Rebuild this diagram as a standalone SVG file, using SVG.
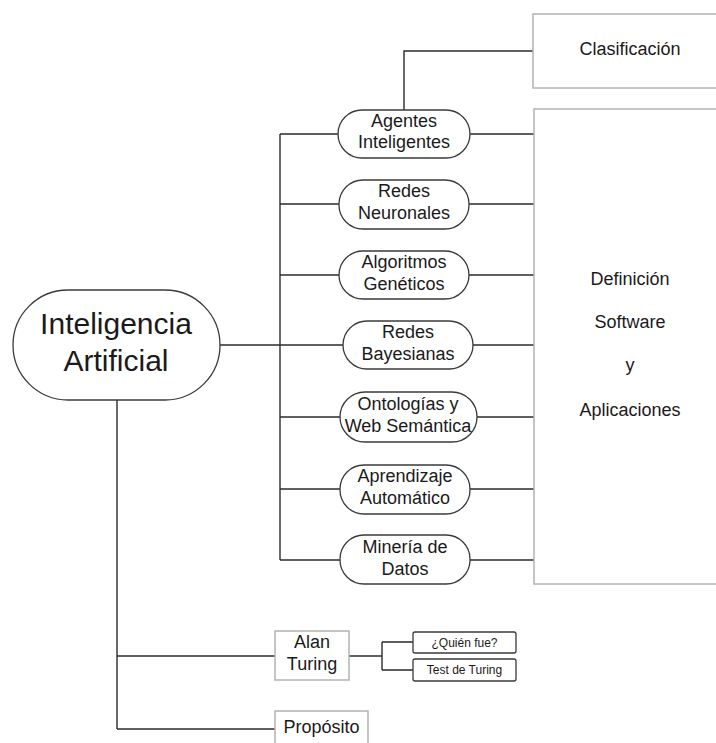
<svg xmlns="http://www.w3.org/2000/svg" width="716" height="743" viewBox="0 0 716 743">
  <style>
    text { font-family: "Liberation Sans", Arial, sans-serif; fill: #1a1a1a; text-anchor: middle; }
    .t18 { font-size: 18px; }
    .t12 { font-size: 12px; }
    .big { font-size: 30px; }
    .pill { fill: #ffffff; stroke: #3a3a3a; stroke-width: 1.3; }
    .box { fill: #ffffff; stroke: #b3b3b3; stroke-width: 1.5; }
    .tag { fill: #ffffff; stroke: #3a3a3a; stroke-width: 1.3; }
    .link { fill: none; stroke: #2b2b2b; stroke-width: 1.4; }
  </style>
  <rect width="716" height="743" fill="#ffffff"/>

  <!-- connectors -->
  <g id="connectors" class="link">
    <!-- main node to the topic list -->
    <path d="M220 345 H343"/>
    <path d="M280 134 V560"/>
    <path d="M280 134 H338 M470 134 H534"/>
    <path d="M280 204 H339 M469 204 H534"/>
    <path d="M280 275 H339 M469 275 H534"/>
    <path d="M473 345 H534"/>
    <path d="M280 417 H340 M477 417 H534"/>
    <path d="M280 489 H340 M470 489 H534"/>
    <path d="M280 560 H340 M470 560 H534"/>
    <!-- agents to classification -->
    <path d="M404 110 V51 H533"/>
    <!-- lower branch -->
    <path d="M117 400 V729"/>
    <path d="M117 656 H275"/>
    <path d="M117 729 H275"/>
    <path d="M349 656 H382"/>
    <path d="M382 642 V670"/>
    <path d="M382 642 H413 M382 670 H413"/>
  </g>

  <!-- side boxes -->
  <g id="clasificacion">
    <rect class="box" x="533" y="14" width="200" height="74"/>
    <text class="t18" x="630" y="55">Clasificación</text>
  </g>
  <g id="definicion">
    <rect class="box" x="534" y="109" width="200" height="475"/>
    <text class="t18" x="630" y="285">Definición</text>
    <text class="t18" x="630" y="328">Software</text>
    <text class="t18" x="630" y="371">y</text>
    <text class="t18" x="630" y="416">Aplicaciones</text>
  </g>

  <!-- main node -->
  <g id="inteligencia-artificial">
    <rect class="pill" x="13" y="290" width="207" height="110" rx="55" ry="55"/>
    <text class="big" x="116" y="334">Inteligencia</text>
    <text class="big" x="116" y="371">Artificial</text>
  </g>

  <!-- topic pills -->
  <g id="agentes">
    <rect class="pill" x="338" y="110" width="132" height="48" rx="24"/>
    <text class="t18" x="404" y="127">Agentes</text>
    <text class="t18" x="404" y="148">Inteligentes</text>
  </g>
  <g id="redes-neuronales">
    <rect class="pill" x="339" y="180" width="130" height="49" rx="24"/>
    <text class="t18" x="404" y="197">Redes</text>
    <text class="t18" x="404" y="219">Neuronales</text>
  </g>
  <g id="algoritmos">
    <rect class="pill" x="339" y="251" width="130" height="48" rx="24"/>
    <text class="t18" x="404" y="268">Algoritmos</text>
    <text class="t18" x="404" y="290">Genéticos</text>
  </g>
  <g id="redes-bayesianas">
    <rect class="pill" x="343" y="321" width="130" height="48" rx="24"/>
    <text class="t18" x="408" y="338">Redes</text>
    <text class="t18" x="408" y="360">Bayesianas</text>
  </g>
  <g id="ontologias">
    <rect class="pill" x="340" y="392" width="137" height="50" rx="25"/>
    <text class="t18" x="408" y="410">Ontologías y</text>
    <text class="t18" x="408" y="432">Web Semántica</text>
  </g>
  <g id="aprendizaje">
    <rect class="pill" x="340" y="465" width="130" height="49" rx="24"/>
    <text class="t18" x="405" y="482">Aprendizaje</text>
    <text class="t18" x="405" y="504">Automático</text>
  </g>
  <g id="mineria">
    <rect class="pill" x="340" y="535" width="130" height="49" rx="24"/>
    <text class="t18" x="405" y="553">Minería de</text>
    <text class="t18" x="405" y="575">Datos</text>
  </g>

  <!-- lower branch -->
  <g id="alan-turing">
    <rect class="box" x="275" y="631" width="74" height="49"/>
    <text class="t18" x="312" y="648">Alan</text>
    <text class="t18" x="312" y="670">Turing</text>
  </g>
  <g id="quien-fue">
    <rect class="tag" x="413" y="632" width="103" height="21" rx="2"/>
    <text class="t12" x="464.5" y="647">¿Quién fue?</text>
  </g>
  <g id="test-turing">
    <rect class="tag" x="413" y="659" width="103" height="22" rx="2"/>
    <text class="t12" x="464.5" y="674">Test de Turing</text>
  </g>
  <g id="proposito">
    <rect class="box" x="275" y="711" width="93" height="45"/>
    <text class="t18" x="321.5" y="733">Propósito</text>
  </g>
</svg>
